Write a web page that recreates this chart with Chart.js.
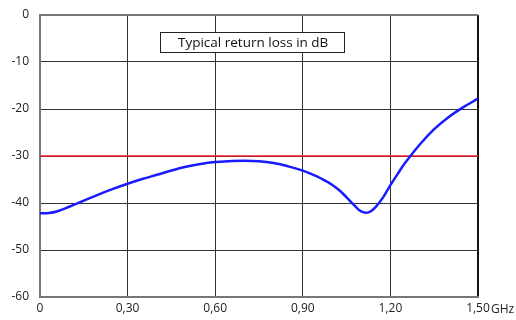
<!DOCTYPE html>
<html>
<head>
<meta charset="utf-8">
<script src="https://cdn.jsdelivr.net/npm/chart.js@4"></script>
<style>
  html, body { margin: 0; padding: 0; background: #fff; }
  #wrap { width: 516px; height: 320px; }
</style>
</head>
<body>
<div id="wrap"><canvas id="chart" width="516" height="320"></canvas></div>
<script>
// frequency in GHz and typical return loss in dB
const freqs = [0, 0.03, 0.06, 0.1, 0.15, 0.2, 0.25, 0.3, 0.35, 0.4, 0.45, 0.5, 0.55, 0.6, 0.65, 0.7,
  0.75, 0.8, 0.85, 0.9, 0.95, 0.975, 1.0, 1.025, 1.05, 1.075, 1.1, 1.125, 1.15, 1.175, 1.2, 1.225,
  1.25, 1.3, 1.35, 1.4, 1.45, 1.5];
const returnLoss = [-42.2, -42.15, -41.75, -40.8, -39.5, -38.2, -37.0, -35.9, -34.9, -34.0, -33.1, -32.3,
  -31.7, -31.3, -31.1, -31.0, -31.1, -31.5, -32.2, -33.1, -34.4, -35.2, -36.1, -37.3, -38.8, -40.4,
  -41.8, -42.0, -40.8, -38.8, -36.2, -33.8, -31.5, -27.6, -24.3, -21.7, -19.6, -17.8];
const limitFreqs = [0, 1.5];
const limitLevel = [-30, -30];

const xTicks = [0, 0.3, 0.6, 0.9, 1.2, 1.5];
const xTickLabels = ['0', '0,30', '0,60', '0,90', '1,20', '1,50'];
const yTicks = [0, -10, -20, -30, -40, -50, -60];
const yTickLabels = ['0', '-10', '-20', '-30', '-40', '-50', '-60'];

const titleText = 'Typical return loss in dB';
const unitText = 'GHz';
const FONT = '"Open Sans", "DejaVu Sans", sans-serif';

const extras = {
  id: 'extras',
  afterDraw(chart) {
    const { ctx, chartArea } = chart;
    ctx.save();
    // title box
    const bx = chartArea.left + 120, by = chartArea.top + 17, bw = 184, bh = 20;
    ctx.fillStyle = '#fff';
    ctx.fillRect(bx, by, bw, bh);
    ctx.strokeStyle = '#222';
    ctx.lineWidth = 1;
    ctx.strokeRect(bx + 0.5, by + 0.5, bw, bh);
    ctx.fillStyle = '#111';
    ctx.font = '13.5px ' + FONT;
    ctx.textBaseline = 'middle';
    ctx.textAlign = 'left';
    ctx.fillText(titleText, bx + 18, by + bh / 2 + 1);
    // unit after last x tick
    const xs = chart.scales.x;
    ctx.font = '12px ' + FONT;
    ctx.fillStyle = '#222';
    ctx.fillText(unitText, xs.getPixelForValue(1.5) + 13, 310);
    ctx.restore();
  }
};

new Chart(document.getElementById('chart'), {
  type: 'line',
  data: {
    datasets: [
      {
        data: freqs.map((f, i) => ({ x: f, y: returnLoss[i] })),
        borderColor: '#1a1aff',
        borderWidth: 2.5,
        pointRadius: 0,
        tension: 0.4,
        order: 0
      },
      {
        data: limitFreqs.map((f, i) => ({ x: f, y: limitLevel[i] })),
        borderColor: '#ee1c24',
        borderWidth: 1.5,
        pointRadius: 0,
        order: 1
      }
    ]
  },
  options: {
    responsive: false,
    animation: false,
    layout: { padding: { top: 15, right: 38, left: 0, bottom: 0 } },
    plugins: { legend: { display: false }, tooltip: { enabled: false } },
    scales: {
      x: {
        type: 'linear',
        min: 0,
        max: 1.5,
        afterBuildTicks: s => { s.ticks = xTicks.map(v => ({ value: v })); },
        afterFit: s => { s.height = 23; s.paddingLeft = 0; s.paddingRight = 0; },
        ticks: {
          autoSkip: false,
          maxRotation: 0,
          padding: 4,
          color: '#222',
          font: { family: FONT, size: 12 },
          callback: (v, i) => xTickLabels[i]
        },
        grid: {
          color: c => (c.tick && c.tick.value === 1.5) ? '#111' : '#333',
          lineWidth: c => (c.tick && c.tick.value === 1.5) ? 2 : 1,
          drawTicks: false
        },
        border: { color: '#777', width: 2 }
      },
      y: {
        min: -60,
        max: 0,
        afterBuildTicks: s => { s.ticks = yTicks.map(v => ({ value: v })); },
        afterFit: s => { s.width = 40; s.paddingTop = 0; s.paddingBottom = 0; },
        ticks: {
          padding: 11,
          color: '#222',
          font: { family: FONT, size: 12 },
          callback: (v, i) => yTickLabels[i]
        },
        grid: {
          color: c => (c.tick && c.tick.value === 0) ? '#777' : '#333',
          lineWidth: c => (c.tick && c.tick.value === 0) ? 2 : 1,
          drawTicks: false
        },
        border: { color: '#777', width: 2 }
      }
    }
  },
  plugins: [extras]
});
</script>
</body>
</html>
